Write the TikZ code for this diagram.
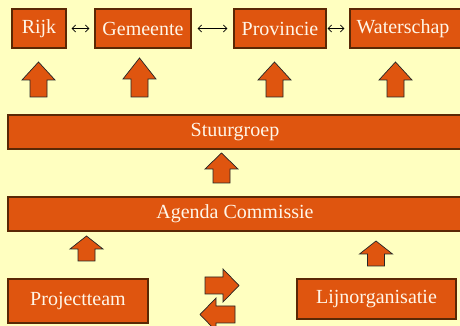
\documentclass[tikz,border=0pt]{standalone}
\usepackage{fontspec}
\setmainfont{Liberation Serif}
\usetikzlibrary{arrows.meta}

\definecolor{bgyellow}{RGB}{255,255,192}
\definecolor{boxorange}{RGB}{223,85,15}
\definecolor{boxedge}{RGB}{90,40,5}
\definecolor{boxtext}{RGB}{255,246,232}

\tikzset{
	orgbox/.style={draw=boxedge, line width=1.1pt, fill=boxorange, text=boxtext,
		inner sep=0pt, font=\fontsize{20}{24}\selectfont},
	blockarrow/.style={draw=black!85, line width=0.7pt, fill=boxorange, line join=miter},
	link/.style={{Straight Barb[length=3.5pt,width=7pt]}-{Straight Barb[length=3.5pt,width=7pt]}, line width=0.8pt}
}

% #1 base, #2 angle, #3 length, #4 head length
\newcommand{\blockarrow}[4]{%
	\begin{scope}[shift={#1}, rotate=#2]
		\draw[blockarrow] (0,-8.5) -- (#3-#4,-8.5) -- (#3-#4,-16.5) -- (#3,0)
			-- (#3-#4,16.5) -- (#3-#4,8.5) -- (0,8.5) -- cycle;
	\end{scope}}

\begin{document}
\begin{tikzpicture}[x=1pt, y=1pt]
	\useasboundingbox[fill=bgyellow] (0,0) rectangle (460,326);
	
	% top row
	\node[orgbox, minimum width=54, minimum height=39] (rijk) at (39, 297.5) {Rijk};
	\node[orgbox, minimum width=96, minimum height=39] (gemeente) at (143, 297.5) {Gemeente};
	\node[orgbox, minimum width=92, minimum height=39] (provincie) at (280, 297.5) {Provincie};
	\node[orgbox, minimum width=112, minimum height=39] (waterschap) at (406, 297.5) {\hspace{-6pt}Waterschap};
	
	\draw[link, shorten <=5pt, shorten >=5pt] (rijk.east) -- (gemeente.west);
	\draw[link, shorten <=6pt, shorten >=6pt] (gemeente.east) -- (provincie.west);
	\draw[link, shorten <=1pt, shorten >=5pt] (provincie.east) -- (waterschap.west);
	
	\blockarrow{(38.5,229)}{90}{35}{18}
	\blockarrow{(139.5,229)}{90}{39}{21}
	\blockarrow{(274.5,229)}{90}{35}{18}
	\blockarrow{(395.5,229)}{90}{35}{18}
	
	% bars
	\node[orgbox, minimum width=454, minimum height=34] (stuurgroep) at (235, 194) {Stuurgroep};
	\blockarrow{(221.5,143)}{90}{30}{16}
	\node[orgbox, minimum width=454, minimum height=34] (agenda) at (235, 112) {Agenda Commissie};
	
	\blockarrow{(86.5,65)}{90}{25}{13}
	\blockarrow{(376,60)}{90}{25}{13}
	
	% bottom row
	\node[orgbox, minimum width=140, minimum height=44] (projectteam) at (78, 25) {Projectteam};
	\node[orgbox, minimum width=159, minimum height=40] (lijn) at (376.5, 27) {Lijnorganisatie};
	
	\blockarrow{(205,40.5)}{0}{34}{16}
	\blockarrow{(235,11.5)}{180}{35}{16}
\end{tikzpicture}
\end{document}
